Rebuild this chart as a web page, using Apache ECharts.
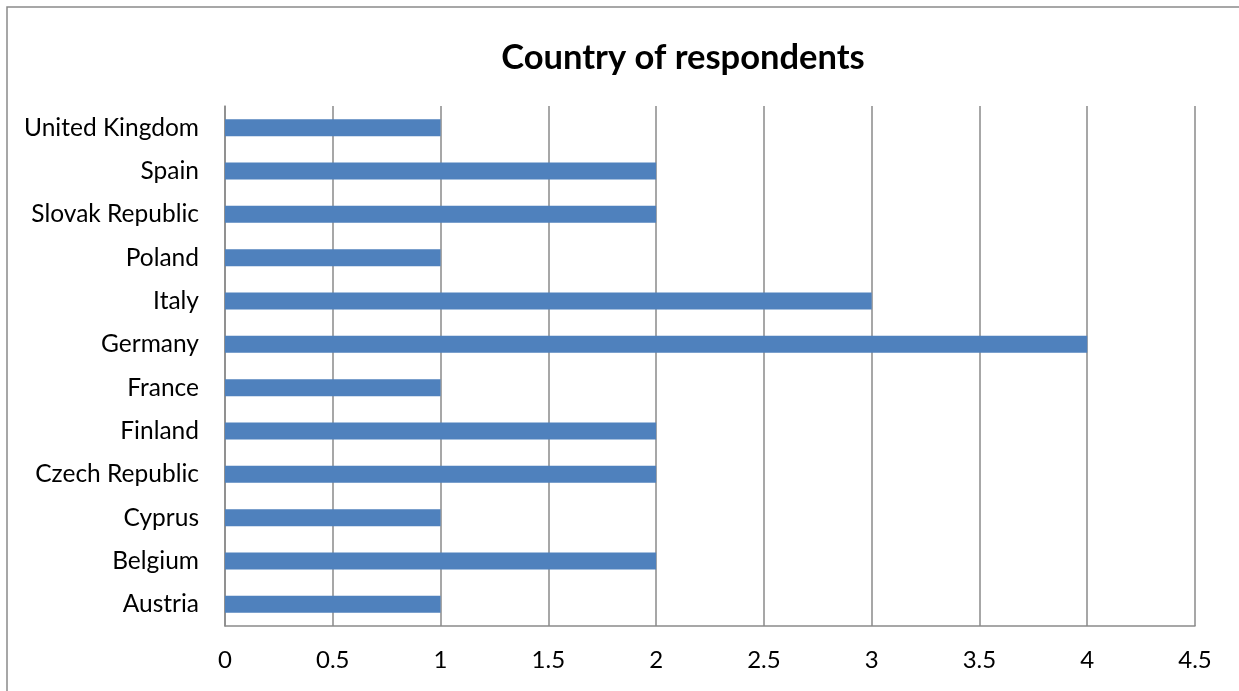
<!DOCTYPE html>
<html>
<head>
<meta charset="utf-8">
<script src="https://cdn.jsdelivr.net/npm/echarts@6/dist/echarts.min.js"></script>
<style>
  html, body { margin: 0; padding: 0; background: #fff; }
  #chart { width: 1239px; height: 691px; }
</style>
</head>
<body>
<div id="chart"></div>
<script>
// Countries listed bottom-to-top along the category axis
const countries = ['Austria', 'Belgium', 'Cyprus', 'Czech Republic', 'Finland', 'France',
                   'Germany', 'Italy', 'Poland', 'Slovak Republic', 'Spain', 'United Kingdom'];
const respondents = [1, 2, 1, 2, 2, 1, 4, 3, 1, 2, 2, 1];
const xTicks = [0, 0.5, 1, 1.5, 2, 2.5, 3, 3.5, 4, 4.5];

const FONT = 'Lato, "Open Sans", sans-serif';
const chart = echarts.init(document.getElementById('chart'));

chart.setOption({
  animation: false,
  backgroundColor: '#fff',
  title: {
    text: 'Country of respondents',
    left: 678,
    top: 35,
    textAlign: 'center',
    textStyle: { fontFamily: FONT, fontSize: 34.5, fontWeight: 'bold', color: '#000' }
  },
  graphic: [{
    type: 'rect',
    shape: { x: 7, y: 7, width: 1300, height: 760 },
    style: { fill: 'none', stroke: '#8a8a8a', lineWidth: 1.5 },
    silent: true
  }],
  grid: { left: 225, right: 44, top: 106, bottom: 65, containLabel: false },
  xAxis: {
    type: 'value',
    min: xTicks[0],
    max: xTicks[xTicks.length - 1],
    interval: 0.5,
    axisLine: { show: true, lineStyle: { color: '#8a8a8a', width: 1.5 } },
    axisTick: { show: false },
    splitLine: { show: true, lineStyle: { color: '#8a8a8a', width: 1.5 } },
    axisLabel: { fontFamily: FONT, fontSize: 24, color: '#000', margin: 22 }
  },
  yAxis: {
    type: 'category',
    data: countries,
    axisLine: { show: true, lineStyle: { color: '#8a8a8a', width: 1.5 } },
    axisTick: { show: false },
    axisLabel: { fontFamily: FONT, fontSize: 24.5, color: '#000', margin: 26 }
  },
  series: [{
    type: 'bar',
    data: respondents,
    barWidth: 17,
    itemStyle: { color: '#4F81BD' }
  }]
});
</script>
</body>
</html>
